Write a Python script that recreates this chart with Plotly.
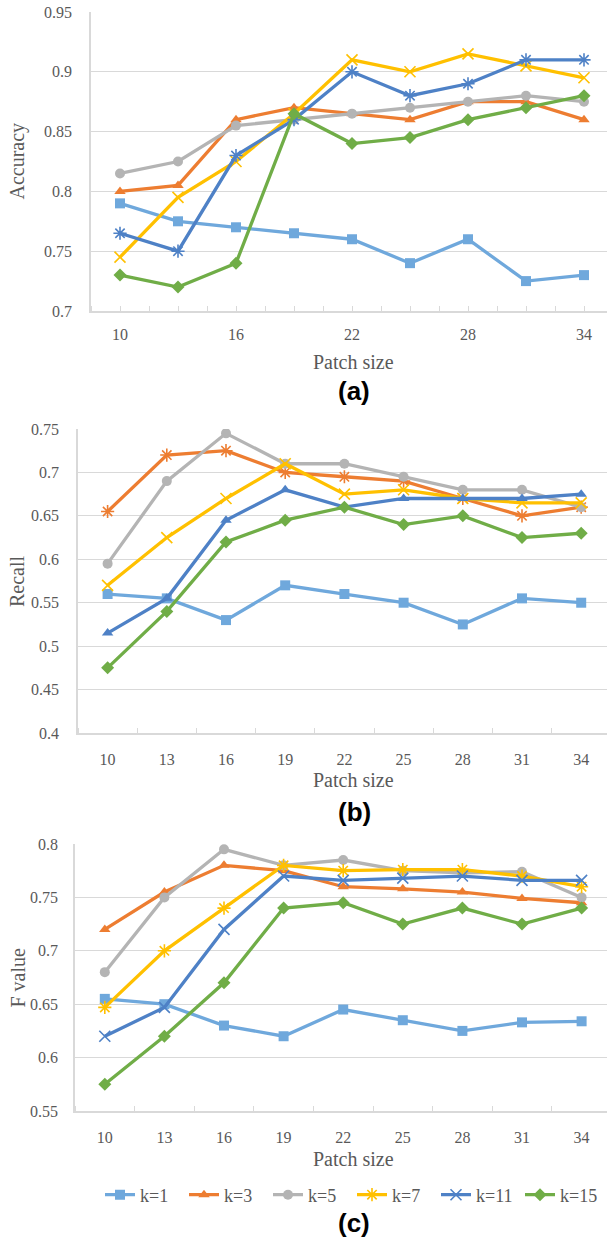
import plotly.graph_objects as go

W, H = 607, 1242


def px(x):
    return x / W


def py(y):
    return 1 - y / H


patch_sizes = [10, 13, 16, 19, 22, 25, 28, 31, 34]
series_names = ["k=1", "k=3", "k=5", "k=7", "k=11", "k=15"]
colors = ["#6FA8DC", "#ED7D31", "#B4B4B4", "#FFC000", "#4E81C6", "#70AD47"]

# (a) Accuracy
acc_k1 = [0.79, 0.775, 0.77, 0.765, 0.76, 0.74, 0.76, 0.725, 0.73]
acc_k3 = [0.80, 0.805, 0.86, 0.87, 0.865, 0.86, 0.875, 0.875, 0.86]
acc_k5 = [0.815, 0.825, 0.855, 0.86, 0.865, 0.87, 0.875, 0.88, 0.875]
acc_k7 = [0.745, 0.795, 0.825, 0.865, 0.91, 0.90, 0.915, 0.905, 0.895]
acc_k11 = [0.765, 0.75, 0.83, 0.86, 0.90, 0.88, 0.89, 0.91, 0.91]
acc_k15 = [0.73, 0.72, 0.74, 0.865, 0.84, 0.845, 0.86, 0.87, 0.88]

# (b) Recall
rec_k1 = [0.56, 0.555, 0.53, 0.57, 0.56, 0.55, 0.525, 0.555, 0.55]
rec_k3 = [0.655, 0.72, 0.725, 0.70, 0.695, 0.69, 0.67, 0.65, 0.66]
rec_k5 = [0.595, 0.69, 0.745, 0.71, 0.71, 0.695, 0.68, 0.68, 0.66]
rec_k7 = [0.57, 0.625, 0.67, 0.71, 0.675, 0.68, 0.67, 0.665, 0.665]
rec_k11 = [0.515, 0.555, 0.645, 0.68, 0.66, 0.67, 0.67, 0.67, 0.675]
rec_k15 = [0.475, 0.54, 0.62, 0.645, 0.66, 0.64, 0.65, 0.625, 0.63]

# (c) F value
f_k1 = [0.655, 0.65, 0.63, 0.62, 0.645, 0.635, 0.625, 0.633, 0.634]
f_k3 = [0.72, 0.755, 0.78, 0.775, 0.76, 0.758, 0.755, 0.749, 0.745]
f_k5 = [0.68, 0.75, 0.795, 0.78, 0.785, 0.775, 0.773, 0.774, 0.75]
f_k7 = [0.647, 0.70, 0.74, 0.78, 0.775, 0.776, 0.776, 0.77, 0.76]
f_k11 = [0.62, 0.647, 0.72, 0.77, 0.766, 0.768, 0.77, 0.766, 0.766]
f_k15 = [0.575, 0.62, 0.67, 0.74, 0.745, 0.725, 0.74, 0.725, 0.74]

acc_ticks = [0.7, 0.75, 0.8, 0.85, 0.9, 0.95]
acc_ticktext = ["0.7", "0.75", "0.8", "0.85", "0.9", "0.95"]
rec_ticks = [0.4, 0.45, 0.5, 0.55, 0.6, 0.65, 0.7, 0.75]
rec_ticktext = ["0.4", "0.45", "0.5", "0.55", "0.6", "0.65", "0.7", "0.75"]
f_ticks = [0.55, 0.6, 0.65, 0.7, 0.75, 0.8]
f_ticktext = ["0.55", "0.6", "0.65", "0.7", "0.75", "0.8"]
x_labels_a = [10, 16, 22, 28, 34]

panels = [
    dict(data=[acc_k1, acc_k3, acc_k5, acc_k7, acc_k11, acc_k15],
         symbols=["square", "triangle-up", "circle", "x-thin-open", "asterisk-open", "diamond"],
         left=91, top=12, bottom=311, pxcat=58.0, yr=[0.7, 0.95],
         yt=acc_ticks, ytt=acc_ticktext, xt=x_labels_a, minor_dt=1.5,
         ystand=14, xstand=8,
         title="Accuracy", xtitle_y=362, tag="(a)", tag_y=391),
    dict(data=[rec_k1, rec_k3, rec_k5, rec_k7, rec_k11, rec_k15],
         symbols=["square", "asterisk-open", "circle", "x-thin-open", "triangle-up", "diamond"],
         left=78, top=429, bottom=733, pxcat=59.2, yr=[0.4, 0.75],
         yt=rec_ticks, ytt=rec_ticktext, xt=patch_sizes, minor_dt=3,
         ystand=14, xstand=11,
         title="Recall", xtitle_y=780, tag="(b)", tag_y=812),
    dict(data=[f_k1, f_k3, f_k5, f_k7, f_k11, f_k15],
         symbols=["square", "triangle-up", "circle", "asterisk-open", "x-thin-open", "diamond"],
         left=75, top=844, bottom=1111, pxcat=59.6, yr=[0.55, 0.8],
         yt=f_ticks, ytt=f_ticktext, xt=patch_sizes, minor_dt=3,
         ystand=12, xstand=11,
         title="F value", xtitle_y=1159, tag="(c)", tag_y=1223),
]

SERIF = "Liberation Serif, Times New Roman, serif"
GRAY_TXT = "#595959"
GRID = "#D9D9D9"

fig = go.Figure()
annotations = []
layout_axes = {}

for i, p in enumerate(panels):
    n = "" if i == 0 else str(i + 1)
    xa, ya = "x" + n, "y" + n
    for j, (vals, sym) in enumerate(zip(p["data"], p["symbols"])):
        open_sym = sym.endswith("-open")
        fig.add_trace(go.Scatter(
            x=patch_sizes, y=vals, mode="lines+markers",
            name=series_names[j], legendgroup=series_names[j],
            showlegend=(i == 2),
            line=dict(color=colors[j], width=3.3),
            marker=dict(symbol=sym, size=11 if open_sym else 10, color=colors[j],
                        line=dict(color=colors[j], width=1.6 if open_sym else 0)),
            xaxis=xa, yaxis=ya,
        ))
    per_unit = p["pxcat"] / 3.0
    x0 = 8.5
    x1 = x0 + (W - p["left"]) / per_unit
    layout_axes["xaxis" + n] = dict(
        domain=[px(p["left"]), 1.0], range=[x0, x1], anchor=ya,
        tickmode="array", tickvals=p["xt"], ticktext=[str(v) for v in p["xt"]],
        ticks="", ticklabelstandoff=p["xstand"], automargin=False,
        showgrid=False, zeroline=False,
        showline=True, linecolor=GRID, linewidth=1.5,
        tickfont=dict(family=SERIF, size=16, color=GRAY_TXT),
        minor=dict(ticks="inside", tick0=8.5, dtick=p["minor_dt"], ticklen=5,
                   tickcolor=GRID, tickwidth=1, showgrid=False),
    )
    layout_axes["yaxis" + n] = dict(
        domain=[py(p["bottom"]), py(p["top"])], range=p["yr"], anchor=xa,
        tickmode="array", tickvals=p["yt"], ticktext=p["ytt"],
        ticks="", ticklabelstandoff=p["ystand"], automargin=False,
        showgrid=True, gridcolor=GRID, gridwidth=1.2, zeroline=False,
        showline=True, linecolor=GRID, linewidth=1.5,
        tickfont=dict(family=SERIF, size=16, color=GRAY_TXT),
    )
    mid_y = (p["top"] + p["bottom"]) / 2
    annotations.append(dict(text=p["title"], x=px(17), y=py(mid_y),
                            xref="paper", yref="paper", showarrow=False, textangle=-90,
                            font=dict(family=SERIF, size=20, color=GRAY_TXT),
                            xanchor="center", yanchor="middle"))
    annotations.append(dict(text="Patch size", x=px(353), y=py(p["xtitle_y"]),
                            xref="paper", yref="paper", showarrow=False,
                            font=dict(family=SERIF, size=20, color=GRAY_TXT),
                            xanchor="center", yanchor="middle"))
    annotations.append(dict(text="<b>" + p["tag"] + "</b>", x=px(354), y=py(p["tag_y"]),
                            xref="paper", yref="paper", showarrow=False,
                            font=dict(family="Liberation Sans, Arial, sans-serif", size=26, color="#000000"),
                            xanchor="center", yanchor="middle"))

fig.update_layout(
    width=W, height=H,
    margin=dict(l=0, r=0, t=0, b=0, autoexpand=False),
    paper_bgcolor="white", plot_bgcolor="white",
    showlegend=True,
    legend=dict(orientation="h", x=px(352), y=py(1195),
                xanchor="center", yanchor="middle",
                font=dict(family=SERIF, size=18, color=GRAY_TXT),
                itemwidth=30, entrywidth=39, entrywidthmode="pixels",
                tracegroupgap=0, bgcolor="rgba(0,0,0,0)"),
    annotations=annotations,
    **layout_axes,
)

# remove the browser's default 8px page margin so the figure fills the window
fig.write_html("out.html",
               config={"displayModeBar": False},
               post_script="document.body.style.margin='0';document.body.style.overflow='hidden';")
